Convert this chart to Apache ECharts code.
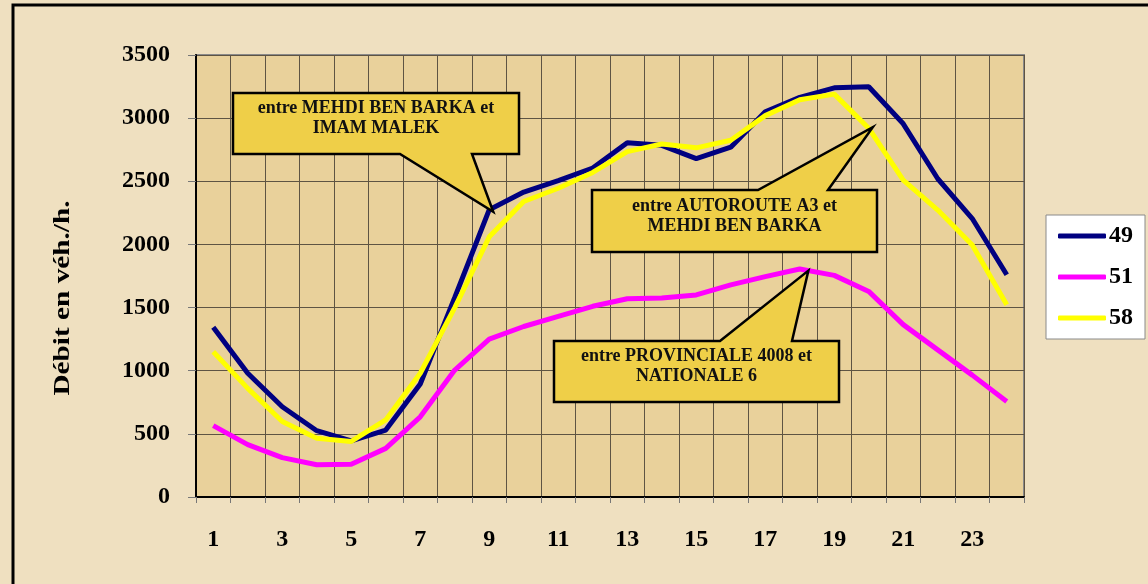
<!DOCTYPE html>
<html>
<head>
<meta charset="utf-8">
<script src="https://cdn.jsdelivr.net/npm/echarts@6/dist/echarts.min.js"></script>
<style>
  html, body { margin: 0; padding: 0; background: #efe0c0; }
  #chart { width: 1148px; height: 584px; }
</style>
</head>
<body>
<div id="chart"></div>
<script>
// hours of the day
const hours = ["1","2","3","4","5","6","7","8","9","10","11","12","13","14","15","16","17","18","19","20","21","22","23","24"];
// counting stations
const s49 = [1345, 980, 715, 525, 445, 530, 895, 1580, 2275, 2415, 2505, 2605, 2805, 2785, 2680, 2770, 3050, 3165, 3240, 3248, 2955, 2520, 2205, 1760];
const s51 = [565, 415, 312, 255, 260, 385, 635, 1005, 1250, 1350, 1430, 1510, 1570, 1575, 1600, 1680, 1745, 1805, 1755, 1628, 1365, 1165, 965, 757];
const s58 = [1150, 860, 598, 465, 440, 610, 980, 1500, 2060, 2340, 2445, 2570, 2735, 2795, 2765, 2825, 3020, 3145, 3190, 2920, 2510, 2272, 1995, 1522];
const yTicks = [0, 3500, 500];

const serif = "'Liberation Serif', 'DejaVu Serif', serif";
const myChart = echarts.init(document.getElementById("chart"));

const option = {
  backgroundColor: "#efe0c0",
  animation: false,
  grid: {
    left: 196, right: 124, top: 55, bottom: 87,
    show: true,
    backgroundColor: "#e9d19b",
    borderColor: "#8a8a8a",
    borderWidth: 2
  },
  legend: {
    orient: "vertical",
    left: 1046, top: 215,
    padding: [9, 12, 9, 12],
    itemGap: 17,
    itemWidth: 48,
    itemHeight: 5,
    icon: "roundRect",
    backgroundColor: "#ffffff",
    borderColor: "#8a8a8a",
    borderWidth: 1,
    textStyle: { fontFamily: serif, fontWeight: "bold", fontSize: 24, color: "#000", padding: [0, 0, 0, -2] },
    data: ["49", "51", "58"]
  },
  xAxis: {
    type: "category",
    data: hours,
    boundaryGap: true,
    axisLine: { lineStyle: { color: "#000", width: 2 } },
    axisTick: { show: true, interval: 0, length: 6, lineStyle: { color: "#777" } },
    axisLabel: { interval: 1, margin: 31, fontFamily: serif, fontWeight: "bold", fontSize: 24, color: "#000" },
    splitLine: { show: true, interval: 0, lineStyle: { color: "#5e5443", width: 1 } }
  },
  yAxis: {
    type: "value",
    min: yTicks[0], max: yTicks[1], interval: yTicks[2],
    axisLine: { show: true, lineStyle: { color: "#000", width: 2 } },
    axisTick: { show: true, length: 8, lineStyle: { color: "#777" } },
    axisLabel: { margin: 26, fontFamily: serif, fontWeight: "bold", fontSize: 24, color: "#000",
      formatter: (v) => String(v) },
    splitLine: { show: true, lineStyle: { color: "#5e5443", width: 1 } }
  },
  series: [
    { name: "49", type: "line", data: s49, showSymbol: false, lineStyle: { color: "#000080", width: 5 }, itemStyle: { color: "#000080" } },
    { name: "51", type: "line", data: s51, showSymbol: false, lineStyle: { color: "#ff00ff", width: 5 }, itemStyle: { color: "#ff00ff" } },
    { name: "58", type: "line", data: s58, showSymbol: false, lineStyle: { color: "#ffff00", width: 5 }, itemStyle: { color: "#ffff00" } }
  ]
};
myChart.setOption(option);

// callout boxes with a pointer to a point of a curve
function callout(box, baseA, baseB, tip, lines, top) {
  const [x1, y1, x2, y2] = box;
  let pts;
  if (top) {
    pts = [[x1, y1], [baseA, y1], tip, [baseB, y1], [x2, y1], [x2, y2], [x1, y2]];
  } else {
    pts = [[x1, y1], [x2, y1], [x2, y2], [baseB, y2], tip, [baseA, y2], [x1, y2]];
  }
  return [
    { type: "polygon", z: 50, shape: { points: pts },
      style: { fill: "#efcf48", stroke: "#000", lineWidth: 2.5, lineJoin: "miter" } },
    { type: "text", z: 51, x: (x1 + x2) / 2, y: (y1 + y2) / 2 - 5,
      style: { text: lines.join("\n"), fill: "#111", font: "bold 18px " + serif,
        align: "center", verticalAlign: "middle", lineHeight: 20 } }
  ];
}

const px = (i, arr) => myChart.convertToPixel({ seriesIndex: 0 }, [i, arr[i]]);
const tip1 = px(8, s49);
const tip2 = px(19, s58);
const a = px(17, s51), b = px(18, s51);
const tip3 = [a[0] + 0.25 * (b[0] - a[0]), a[1] + 0.25 * (b[1] - a[1])];

myChart.setOption({
  graphic: [
    { type: "rect", z: 60, shape: { x: 13, y: 5, width: 1200, height: 700 },
      style: { fill: "none", stroke: "#000", lineWidth: 3 } },
    { type: "text", z: 10, x: 63, y: 298, rotation: Math.PI / 2, scaleX: 1.22,
      style: { text: "Débit en véh./h.", fill: "#000", font: "bold 24px " + serif,
        align: "center", verticalAlign: "middle" } },
    ...callout([233, 93, 519, 154], 400, 472, [tip1[0] + 4, tip1[1] + 2],
      ["entre MEHDI BEN BARKA et", "IMAM MALEK"], false),
    ...callout([592, 190, 877, 252], 758, 828, [tip2[0] + 4, tip2[1] - 1],
      ["entre AUTOROUTE A3 et", "MEHDI BEN BARKA"], true),
    ...callout([554, 341, 839, 402], 720, 792, [tip3[0], tip3[1]],
      ["entre PROVINCIALE 4008 et", "NATIONALE 6"], true)
  ]
});
</script>
</body>
</html>
